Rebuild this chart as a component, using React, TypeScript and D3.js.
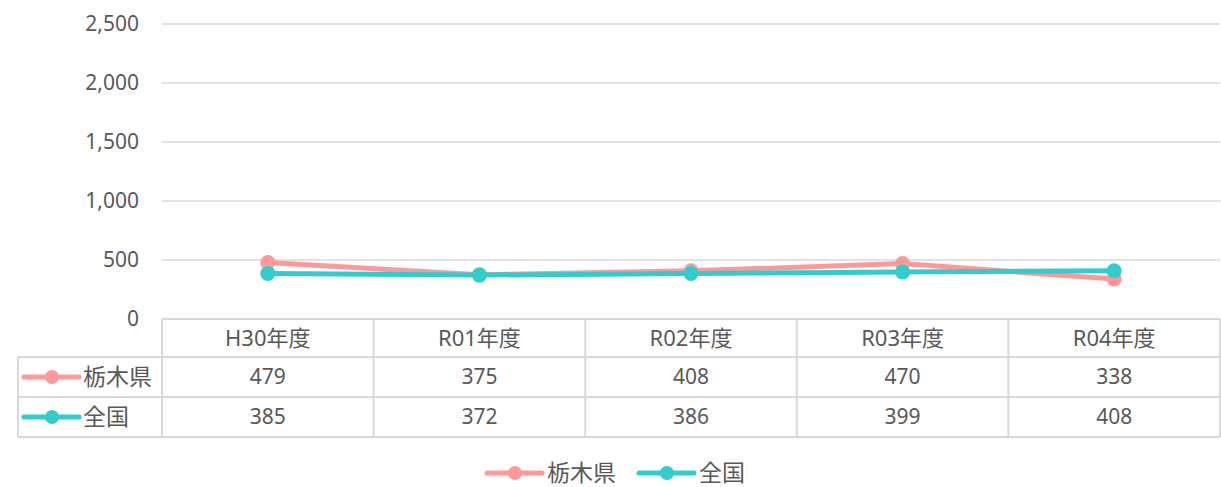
import React from "react";
import * as d3 from "d3";

const categories = ["H30年度", "R01年度", "R02年度", "R03年度", "R04年度"];
const seriesNames = ["栃木県", "全国"];
const tochigi = [479, 375, 408, 470, 338];
const national = [385, 372, 386, 399, 408];
const yTicks = [0, 500, 1000, 1500, 2000, 2500];
const colors = ["#FF9999", "#33CCCC"];

const W = 1221;
const H = 487;
const plotL = 162;
const plotR = 1220;
const plotT = 24;
const plotB = 319;
const rowH = [38, 40, 40];
const tableL = 18;
const textColor = "#595959";
const gridColor = "#D9D9D9";
const font = "'Noto Sans', 'Noto Sans CJK JP', sans-serif";

export default function App() {
  const x = d3.scaleBand<string>().domain(categories).range([plotL, plotR]);
  const y = d3.scaleLinear().domain([0, 2500]).range([plotB, plotT]);
  const cx = (c: string) => (x(c) as number) + x.bandwidth() / 2;
  const allSeries = [tochigi, national];
  const line = d3
    .line<number>()
    .x((_, i) => cx(categories[i]))
    .y((v) => y(v));

  const r1 = plotB + rowH[0];
  const r2 = r1 + rowH[1];
  const r3 = r2 + rowH[2];
  const rowTops = [r1, r2];

  const legendSymbol = (x0: number, yy: number, color: string) => (
    <g>
      <line x1={x0} x2={x0 + 55} y1={yy} y2={yy} stroke={color} strokeWidth={5} strokeLinecap="round" />
      <circle cx={x0 + 28} cy={yy} r={7} fill={color} />
    </g>
  );

  return (
    <svg width={W} height={H} style={{ position: "absolute", left: 0, top: 0 }} fontFamily={font}>
      <rect width={W} height={H} fill="#fff" />
      {yTicks.map((t) => (
        <g key={t}>
          {t > 0 && <line x1={plotL} x2={plotR} y1={y(t)} y2={y(t)} stroke={gridColor} strokeWidth={1.5} />}
          <text x={139} y={y(t)} dy="0.35em" textAnchor="end" fontSize={21} fill={textColor}>
            {d3.format(",")(t)}
          </text>
        </g>
      ))}
      <g stroke={gridColor} strokeWidth={2}>
        <line x1={plotL} x2={plotR} y1={plotB} y2={plotB} />
        <line x1={tableL} x2={plotR} y1={r1} y2={r1} />
        <line x1={tableL} x2={plotR} y1={r2} y2={r2} />
        <line x1={tableL} x2={plotR} y1={r3} y2={r3} />
        <line x1={tableL} x2={tableL} y1={r1} y2={r3} />
        {categories.map((c) => (
          <line key={c} x1={x(c) as number} x2={x(c) as number} y1={plotB} y2={r3} />
        ))}
        <line x1={plotR} x2={plotR} y1={plotB} y2={r3} />
      </g>
      {categories.map((c) => (
        <text key={c} x={cx(c)} y={plotB + rowH[0] / 2} dy="0.35em" textAnchor="middle" fontSize={22} fill={textColor}>
          {c}
        </text>
      ))}
      {allSeries.map((s, si) => (
        <g key={si}>
          {legendSymbol(24, rowTops[si] + rowH[si + 1] / 2, colors[si])}
          <text x={83} y={rowTops[si] + rowH[si + 1] / 2} dy="0.35em" fontSize={23} fill={textColor}>
            {seriesNames[si]}
          </text>
          {s.map((v, i) => (
            <text key={i} x={cx(categories[i])} y={rowTops[si] + rowH[si + 1] / 2} dy="0.35em" textAnchor="middle" fontSize={21} fill={textColor}>
              {v}
            </text>
          ))}
        </g>
      ))}
      {allSeries.map((s, si) => (
        <g key={si}>
          <path d={line(s) as string} fill="none" stroke={colors[si]} strokeWidth={5} strokeLinejoin="round" strokeLinecap="round" />
          {s.map((v, i) => (
            <circle key={i} cx={cx(categories[i])} cy={y(v)} r={7.5} fill={colors[si]} />
          ))}
        </g>
      ))}
      {legendSymbol(487, 473, colors[0])}
      <text x={547} y={473} dy="0.35em" fontSize={23} fill={textColor}>{seriesNames[0]}</text>
      {legendSymbol(639, 473, colors[1])}
      <text x={699} y={473} dy="0.35em" fontSize={23} fill={textColor}>{seriesNames[1]}</text>
    </svg>
  );
}
